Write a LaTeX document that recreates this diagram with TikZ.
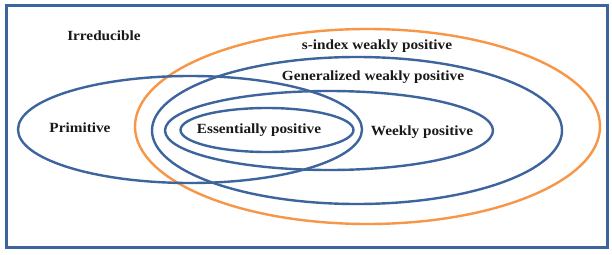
\documentclass[tikz,border=0pt]{standalone}
\usepackage{fontspec}
\setmainfont{Liberation Serif}
\newfontfamily\lblfont[FakeStretch=1.09]{Liberation Serif}
\definecolor{setblue}{RGB}{62,100,158}
\definecolor{setorange}{RGB}{247,150,70}
\tikzset{
  bluering/.style={draw=setblue, line width=2.4pt},
  orangering/.style={draw=setorange, line width=2.4pt},
  lbl/.style={font=\lblfont\bfseries\fontsize{14}{16}\selectfont, inner sep=0pt, text=black!90}
}
\begin{document}
\begin{tikzpicture}[x=1pt,y=-1pt]
\useasboundingbox (0,0) rectangle (612,254);
\fill[white] (0,0) rectangle (612,254);
% frame
\draw[draw=setblue, line width=3pt] (6,6) rectangle (607,247);
% rings
\draw[orangering] (367.5,126.5) ellipse [x radius=232.5, y radius=97.5];
\draw[bluering] (357,130.5) ellipse [x radius=205, y radius=73.5];
\draw[bluering] (190,129.5) ellipse [x radius=172, y radius=53.5];
\draw[bluering] (329,130.5) ellipse [x radius=164, y radius=39.5];
\draw[bluering] (267,130) ellipse [x radius=86.5, y radius=22];
% labels
\node[lbl] (irr) at (104,36) {Irreducible};
\node[lbl] (sidx) at (377,46) {s-index weakly positive};
\node[lbl] (gen) at (373,77) {Generalized weakly positive};
\node[lbl] (prim) at (80,128) {Primitive};
\node[lbl] (ess) at (259,130) {Essentially positive};
\node[lbl] (week) at (422,132) {Weekly positive};
\end{tikzpicture}
\end{document}
